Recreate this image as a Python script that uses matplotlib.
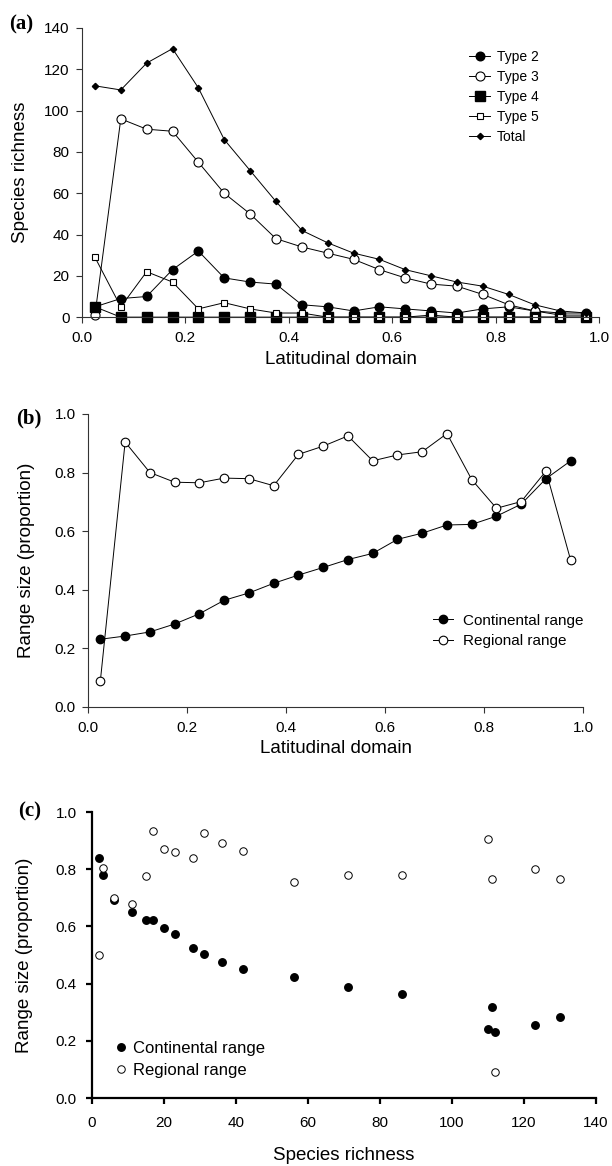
#three panel figure: richness and range size along latitude
import matplotlib
matplotlib.use('Agg')
import matplotlib.pyplot as plt
from matplotlib.ticker import FormatStrFormatter

plt.rcParams['font.family'] = ['Liberation Sans', 'DejaVu Sans']

#latitudinal domain bands (midpoints)
lat = [0.025, 0.075, 0.125, 0.175, 0.225, 0.275, 0.325, 0.375, 0.425, 0.475,
       0.525, 0.575, 0.625, 0.675, 0.725, 0.775, 0.825, 0.875, 0.925, 0.975]

#species richness per band (panel a)
type2 = [5, 9, 10, 23, 32, 19, 17, 16, 6, 5, 3, 5, 4, 3, 2, 4, 5, 3, 2, 2]
type3 = [1, 96, 91, 90, 75, 60, 50, 38, 34, 31, 28, 23, 19, 16, 15, 11, 6, 3, 1, 1]
type4 = [5, 0, 0, 0, 0, 0, 0, 0, 0, 0, 0, 0, 0, 0, 0, 0, 0, 0, 0, 0]
type5 = [29, 5, 22, 17, 4, 7, 4, 2, 2, 0, 0, 0, 0, 1, 0, 0, 0, 0, 0, 0]
total = [112, 110, 123, 130, 111, 86, 71, 56, 42, 36, 31, 28, 23, 20, 17, 15, 11, 6, 3, 2]

#mean range size (panel b, c)
continental = [0.231, 0.242, 0.256, 0.283, 0.318, 0.364, 0.389, 0.422, 0.450, 0.476,
               0.503, 0.524, 0.572, 0.593, 0.621, 0.623, 0.651, 0.692, 0.779, 0.840]
regional = [0.090, 0.904, 0.800, 0.767, 0.765, 0.781, 0.779, 0.755, 0.862, 0.890,
            0.925, 0.840, 0.860, 0.871, 0.933, 0.776, 0.678, 0.701, 0.805, 0.500]

tick_fs = 11
label_fs = 13.5
lw = 0.7

fig = plt.figure(figsize=(6.12, 11.66), dpi=100)
ax_a = fig.add_axes([0.134, 0.728, 0.845, 0.248])
ax_b = fig.add_axes([0.1438, 0.3937, 0.809, 0.2513])
ax_c = fig.add_axes([0.1503, 0.0583, 0.8235, 0.2453])

def style(ax, spine_lw, spine_col):
    for s in ['top', 'right']:
        ax.spines[s].set_visible(False)
    for s in ['left', 'bottom']:
        ax.spines[s].set_linewidth(spine_lw)
        ax.spines[s].set_color(spine_col)
    ax.tick_params(direction='out', length=4, width=spine_lw, color=spine_col,
                   labelsize=tick_fs, pad=5)

#panel a
ax_a.plot(lat, type2, '-o', color='black', lw=lw, ms=6.2, mfc='black', mec='black', label='Type 2')
ax_a.plot(lat, type3, '-o', color='black', lw=lw, ms=6.5, mfc='white', mec='black', mew=0.8, label='Type 3')
ax_a.plot(lat, type4, '-s', color='black', lw=lw, ms=6.5, mfc='black', mec='black', label='Type 4')
ax_a.plot(lat, type5, '-s', color='black', lw=lw, ms=4.5, mfc='white', mec='black', mew=0.8, label='Type 5')
ax_a.plot(lat, total, '-D', color='black', lw=lw, ms=3.2, mfc='black', mec='black', label='Total')
ax_a.set_xlim(0, 1)
ax_a.set_ylim(0, 140)
ax_a.set_yticks(range(0, 141, 20))
ax_a.set_xticks([0, 0.2, 0.4, 0.6, 0.8, 1.0])
ax_a.xaxis.set_major_formatter(FormatStrFormatter('%.1f'))
style(ax_a, 0.8, '#333333')
ax_a.tick_params(axis='x', pad=6)
ax_a.set_xlabel('Latitudinal domain', fontsize=label_fs, labelpad=4)
ax_a.set_ylabel('Species richness', fontsize=label_fs, labelpad=11)
ax_a.legend(loc='upper left', bbox_to_anchor=(0.749, 0.925), frameon=False, fontsize=10,
            handlelength=1.5, handletextpad=0.5, labelspacing=0.44, borderpad=0, borderaxespad=0)

#panel b
ax_b.plot(lat, continental, '-o', color='black', lw=lw, ms=6, mfc='black', mec='black', label='Continental range')
ax_b.plot(lat, regional, '-o', color='black', lw=lw, ms=6.2, mfc='white', mec='black', mew=0.8, label='Regional range')
ax_b.set_xlim(0, 1)
ax_b.set_ylim(0, 1)
ax_b.set_xticks([0, 0.2, 0.4, 0.6, 0.8, 1.0])
ax_b.set_yticks([0, 0.2, 0.4, 0.6, 0.8, 1.0])
ax_b.xaxis.set_major_formatter(FormatStrFormatter('%.1f'))
ax_b.yaxis.set_major_formatter(FormatStrFormatter('%.1f'))
style(ax_b, 0.8, '#333333')
ax_b.tick_params(axis='x', pad=6)
ax_b.set_xlabel('Latitudinal domain', fontsize=label_fs, labelpad=4)
ax_b.set_ylabel('Range size (proportion)', fontsize=label_fs, labelpad=14)
ax_b.legend(loc='upper left', bbox_to_anchor=(0.697, 0.318), frameon=False, fontsize=11,
            handlelength=1.3, handletextpad=0.65, labelspacing=0.44, borderpad=0, borderaxespad=0)

#panel c
ax_c.plot(total, continental, 'o', ls='none', ms=5.4, mfc='black', mec='black', label='Continental range')
ax_c.plot(total, regional, 'o', ls='none', ms=5.4, mfc='white', mec='black', mew=0.7, label='Regional range')
ax_c.set_xlim(0, 140)
ax_c.set_ylim(0, 1)
ax_c.set_xticks(range(0, 141, 20))
ax_c.set_yticks([0, 0.2, 0.4, 0.6, 0.8, 1.0])
ax_c.yaxis.set_major_formatter(FormatStrFormatter('%.1f'))
style(ax_c, 1.6, 'black')
ax_c.tick_params(axis='x', pad=9)
ax_c.tick_params(axis='y', pad=7)
ax_c.set_xlabel('Species richness', fontsize=label_fs, labelpad=12)
ax_c.set_ylabel('Range size (proportion)', fontsize=label_fs, labelpad=16)
ax_c.legend(loc='upper left', bbox_to_anchor=(0.045, 0.2), frameon=False, fontsize=12,
            handlelength=0.8, handletextpad=0.3, labelspacing=0.44, borderpad=0, borderaxespad=0)

#panel letters
fig.text(21 / 612, 1 - 24 / 1166, '(a)', fontsize=15, fontweight='bold', family='Liberation Serif',
         ha='center', va='center')
fig.text(29 / 612, 1 - 418 / 1166, '(b)', fontsize=15, fontweight='bold', family='Liberation Serif',
         ha='center', va='center')
fig.text(30 / 612, 1 - 811 / 1166, '(c)', fontsize=15, fontweight='bold', family='Liberation Serif',
         ha='center', va='center')

for a in (ax_a, ax_b, ax_c):
    for ln in a.lines:
        ln.set_clip_on(False)

fig.savefig('out.png', dpi=100)
